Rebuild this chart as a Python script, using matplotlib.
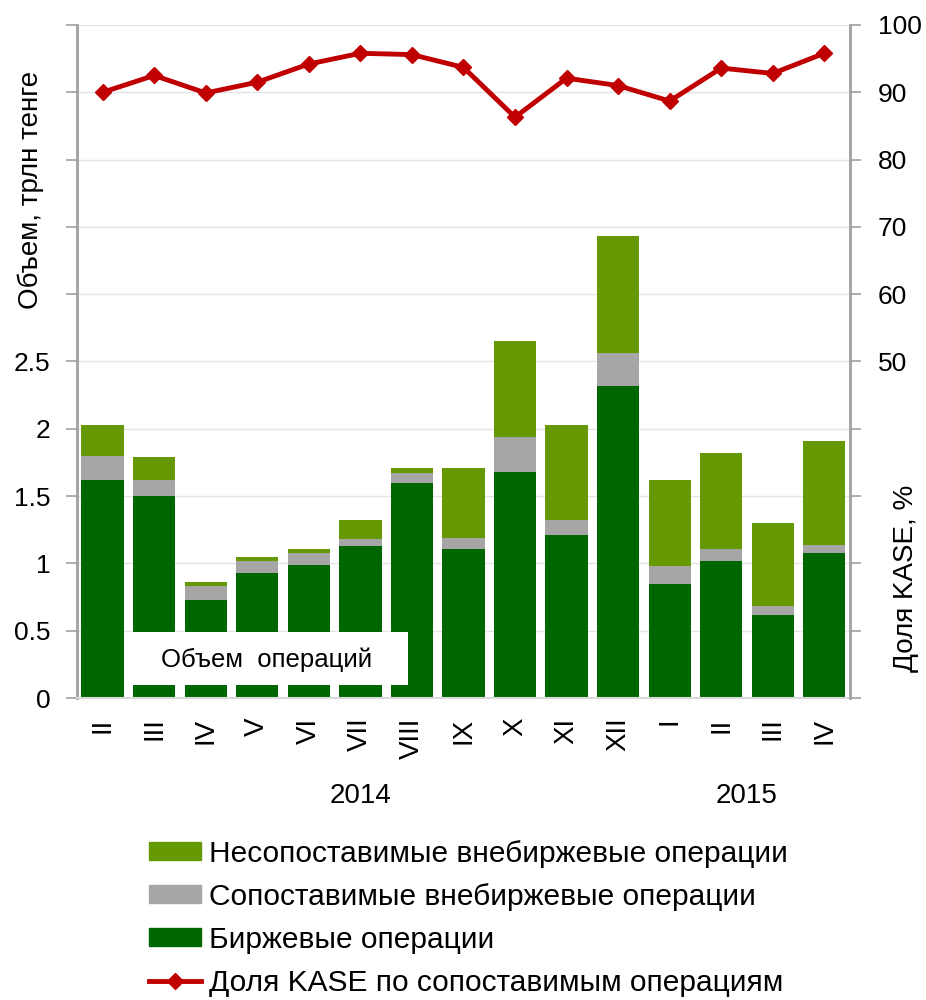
import numpy as np
import matplotlib
matplotlib.use("Agg")
import matplotlib.pyplot as plt
from matplotlib.patches import Patch, Rectangle
from matplotlib.lines import Line2D

plt.rcParams["font.family"] = ["Liberation Sans", "DejaVu Sans"]

months = ["II", "III", "IV", "V", "VI", "VII", "VIII", "IX", "X", "XI", "XII",
          "I", "II", "III", "IV"]
years = ["2014", "2015"]
year_sizes = [11, 4]

# stacked parts (trln tenge)
exchange = [1.62, 1.50, 0.73, 0.93, 0.99, 1.13, 1.60, 1.11, 1.68, 1.21, 2.32,
            0.85, 1.02, 0.62, 1.08]
comparable = [0.18, 0.12, 0.10, 0.09, 0.09, 0.05, 0.07, 0.08, 0.26, 0.11, 0.24,
              0.13, 0.09, 0.06, 0.06]
noncomparable = [0.23, 0.17, 0.03, 0.03, 0.03, 0.14, 0.04, 0.52, 0.71, 0.71, 0.87,
                 0.64, 0.71, 0.62, 0.77]
kase_share = [90.0, 92.5, 89.9, 91.5, 94.2, 95.8, 95.6, 93.7, 86.3, 92.1, 91.0,
              88.7, 93.6, 92.8, 95.8]

c_non = "#669900"
c_comp = "#a6a6a6"
c_exch = "#006600"
c_line = "#c00000"
grey = "#a0a0a0"
fs = 19

fig = plt.figure(figsize=(9.26, 10), dpi=100)
ax = fig.add_axes([0.083, 0.302, 0.835, 0.673])

x = np.arange(len(months))
w = 0.82
b1 = np.array(exchange)
b2 = b1 + np.array(comparable)
ax.bar(x, exchange, w, color=c_exch, zorder=2)
ax.bar(x, comparable, w, bottom=b1, color=c_comp, zorder=2)
ax.bar(x, noncomparable, w, bottom=b2, color=c_non, zorder=2)

ax.set_xlim(-0.5, len(months) - 0.5)
ax.set_ylim(0, 5)
yt = np.arange(0, 5.01, 0.5)
ax.set_yticks(yt)
ax.set_yticklabels([f"{v:g}" if v <= 2.5 else "" for v in yt])
ax.yaxis.grid(True, color="#e4e4e4", linewidth=1, zorder=0)
ax.set_axisbelow(True)
ax.set_xticks(x)
ax.set_xticklabels(months, rotation=90, va="top", ha="center")
ax.tick_params(axis="x", length=0, pad=14, labelsize=fs + 1)
ax.tick_params(axis="y", length=8, color=grey, width=1.2, labelsize=fs, pad=11)
for s in ["top", "right"]:
    ax.spines[s].set_visible(False)
ax.spines["left"].set_color(grey)
ax.spines["left"].set_linewidth(2)
ax.spines["bottom"].set_color("#d9d9d9")
ax.spines["bottom"].set_linewidth(1.5)

# white label box over the bars
ax.add_patch(Rectangle((0.062, 0.019), 0.366, 0.079, transform=ax.transAxes,
                       facecolor="white", edgecolor="none", zorder=5))
ax.text(0.245, 0.057, "Объем  операций", transform=ax.transAxes, ha="center",
        va="center", fontsize=18.5, zorder=6)

ax2 = ax.twinx()
ax2.plot(x, kase_share, color=c_line, linewidth=3.5, marker="D", markersize=8,
         zorder=4)
ax2.set_ylim(0, 100)
ax2.set_yticks(np.arange(0, 101, 10))
ax2.set_yticklabels([str(v) if v >= 50 else "" for v in range(0, 101, 10)])
ax2.tick_params(axis="y", length=8, color=grey, width=1.2, labelsize=fs, pad=12)
for s in ["top", "left", "bottom"]:
    ax2.spines[s].set_visible(False)
ax2.spines["right"].set_color(grey)
ax2.spines["right"].set_linewidth(2)

# year labels under month groups
start = 0
for yr, n in zip(years, year_sizes):
    mid = start + (n - 1) / 2
    ax.text(mid, -0.145, yr, transform=ax.get_xaxis_transform(), ha="center",
            va="center", fontsize=fs + 1)
    start += n

fig.text(0.033, 0.81, "Объем, трлн тенге", rotation=90, ha="center",
         va="center", fontsize=fs + 1)
fig.text(0.978, 0.422, "Доля KASE, %", rotation=90, ha="center",
         va="center", fontsize=fs + 1)

handles = [
    Patch(color=c_non),
    Patch(color=c_comp),
    Patch(color=c_exch),
    Line2D([], [], color=c_line, linewidth=3.5, marker="D", markersize=8),
]
labels = [
    "Несопоставимые внебиржевые операции",
    "Сопоставимые внебиржевые операции",
    "Биржевые операции",
    "Доля KASE по сопоставимым операциям",
]
fig.legend(handles, labels, loc="upper left", bbox_to_anchor=(0.148, 0.172),
           frameon=False, fontsize=21.5, handlelength=1.75, handleheight=0.55,
           handletextpad=0.25, labelspacing=0.5, borderaxespad=0)

fig.savefig("out.png", dpi=100)
